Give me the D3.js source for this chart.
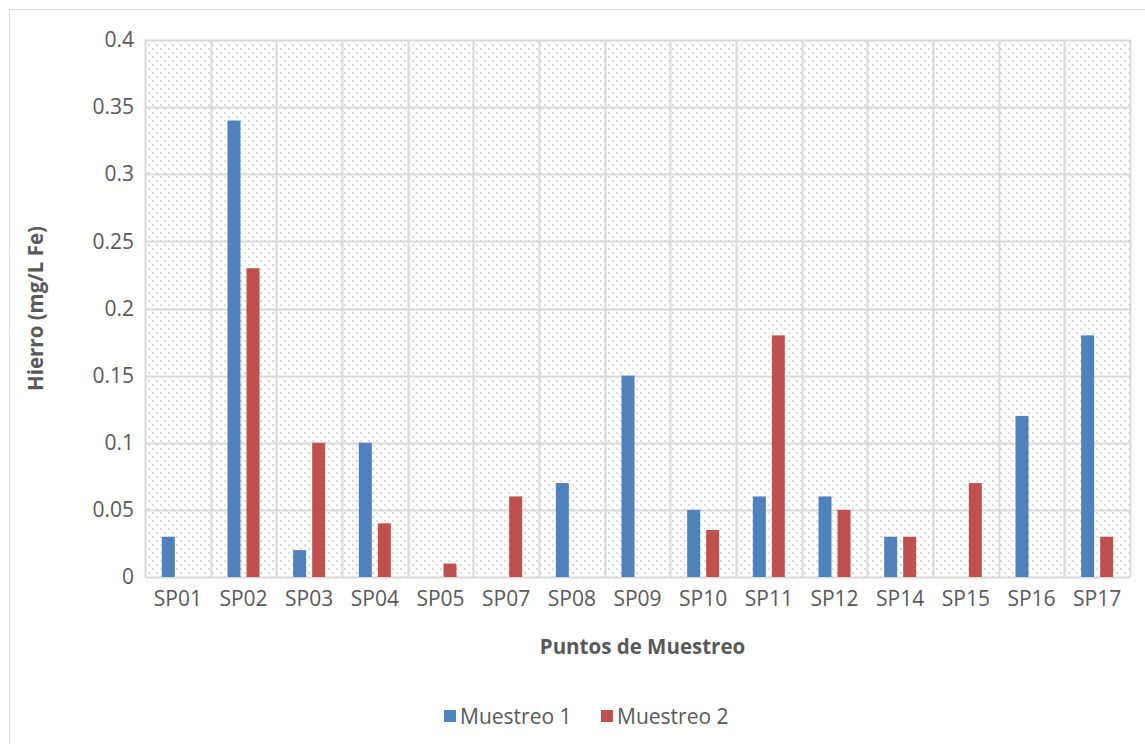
<!DOCTYPE html>
<html>
<head>
<meta charset="utf-8">
<script src="https://cdn.jsdelivr.net/npm/d3@7"></script>
<style>
  html, body { margin: 0; padding: 0; background: #fff; }
  svg { display: block; }
  text { font-family: "Open Sans", Lato, "Liberation Sans", sans-serif; fill: #595959; }
</style>
</head>
<body>
<svg id="chart" width="1145" height="744"></svg>
<script>
// Sampling points and iron concentrations (mg/L Fe)
const categories = ["SP01","SP02","SP03","SP04","SP05","SP07","SP08","SP09","SP10","SP11","SP12","SP14","SP15","SP16","SP17"];
const muestreo1 = [0.03, 0.34, 0.02, 0.10, 0, 0, 0.07, 0.15, 0.05, 0.06, 0.06, 0.03, 0, 0.12, 0.18];
const muestreo2 = [0, 0.23, 0.10, 0.04, 0.01, 0.06, 0, 0, 0.035, 0.18, 0.05, 0.03, 0.07, 0, 0.03];
const seriesNames = ["Muestreo 1", "Muestreo 2"];
const yTicks = [0, 0.05, 0.1, 0.15, 0.2, 0.25, 0.3, 0.35, 0.4];
const yTickLabels = ["0", "0.05", "0.1", "0.15", "0.2", "0.25", "0.3", "0.35", "0.4"];

const colors = ["#4F81BD", "#C0504D"];
const gridColor = "#d9d9d9";
const fontFamily = "'Open Sans', Lato, sans-serif";
const fontSize = 21;

const svg = d3.select("#chart");

// Outer chart frame
svg.append("rect")
  .attr("x", 9.5).attr("y", 9.5)
  .attr("width", 1145).attr("height", 744)
  .attr("fill", "#fff").attr("stroke", "#d9d9d9").attr("stroke-width", 1);

const plot = { left: 145, right: 1130, top: 40, bottom: 577 };

// Diagonal hatch fill of the plot area
const defs = svg.append("defs");
const pat = defs.append("pattern")
  .attr("id", "hatch")
  .attr("patternUnits", "userSpaceOnUse")
  .attr("width", 8).attr("height", 8);
pat.append("path")
  .attr("d", "M0,0 L8,8")
  .attr("stroke", "#d2d2d2")
  .attr("stroke-width", 1.4)
  .attr("stroke-dasharray", "2.8,2.8");

const x = d3.scaleBand()
  .domain(categories)
  .range([plot.left, plot.right])
  .paddingInner(0).paddingOuter(0);

const y = d3.scaleLinear()
  .domain([0, 0.4])
  .range([plot.bottom, plot.top]);

svg.append("rect")
  .attr("x", plot.left).attr("y", plot.top)
  .attr("width", plot.right - plot.left)
  .attr("height", plot.bottom - plot.top)
  .attr("fill", "url(#hatch)");

// Horizontal gridlines
svg.append("g")
  .selectAll("line")
  .data(yTicks)
  .join("line")
  .attr("x1", plot.left).attr("x2", plot.right)
  .attr("y1", d => Math.round(y(d)) + 0.5)
  .attr("y2", d => Math.round(y(d)) + 0.5)
  .attr("stroke", gridColor).attr("stroke-width", 2);

// Vertical gridlines at category boundaries
const bounds = categories.map(c => x(c)).concat([plot.right]);
svg.append("g")
  .selectAll("line")
  .data(bounds)
  .join("line")
  .attr("x1", d => Math.round(d) + 0.5).attr("x2", d => Math.round(d) + 0.5)
  .attr("y1", plot.top).attr("y2", plot.bottom)
  .attr("stroke", gridColor).attr("stroke-width", 2);

// Bars
const barW = 13, gap = 6;
const series = [muestreo1, muestreo2];
series.forEach((vals, si) => {
  svg.append("g")
    .selectAll("rect")
    .data(vals.map((v, i) => ({ cat: categories[i], v })).filter(d => d.v > 0))
    .join("rect")
    .attr("x", d => x(d.cat) + x.bandwidth() / 2 + (si === 0 ? -(gap / 2 + barW) : gap / 2))
    .attr("y", d => y(d.v))
    .attr("width", barW)
    .attr("height", d => y(0) - y(d.v))
    .attr("fill", colors[si]);
});

// Y axis labels
const yAxis = d3.axisLeft(y)
  .tickValues(yTicks)
  .tickFormat((d, i) => yTickLabels[i])
  .tickSize(0)
  .tickPadding(0);
const gy = svg.append("g")
  .attr("transform", `translate(${plot.left - 11},0)`)
  .call(yAxis);
gy.select(".domain").remove();
gy.selectAll("text").attr("font-size", fontSize).attr("fill", "#595959")
  .style("font-family", fontFamily);

// X axis labels
const xAxis = d3.axisBottom(x).tickSize(0).tickPadding(0);
const gx = svg.append("g")
  .attr("transform", `translate(0,${plot.bottom + 14})`)
  .call(xAxis);
gx.select(".domain").remove();
gx.selectAll("text").attr("font-size", fontSize).attr("fill", "#595959")
  .style("font-family", fontFamily);

// Axis titles
svg.append("text")
  .attr("x", (plot.left + plot.right) / 2 + 5)
  .attr("y", 654)
  .attr("text-anchor", "middle")
  .attr("font-size", 20.5)
  .attr("font-weight", "bold")
  .text("Puntos de Muestreo");

svg.append("text")
  .attr("transform", `translate(43,${(plot.top + plot.bottom) / 2}) rotate(-90)`)
  .attr("text-anchor", "middle")
  .attr("font-size", 20.5)
  .attr("font-weight", "bold")
  .text("Hierro (mg/L Fe)");

// Legend
const legendX = [444, 601];
const lg = svg.append("g");
seriesNames.forEach((name, i) => {
  lg.append("rect")
    .attr("x", legendX[i]).attr("y", 710)
    .attr("width", 12).attr("height", 12)
    .attr("fill", colors[i]);
  lg.append("text")
    .attr("x", legendX[i] + 16).attr("y", 724)
    .attr("font-size", fontSize)
    .text(name);
});
</script>
</body>
</html>
